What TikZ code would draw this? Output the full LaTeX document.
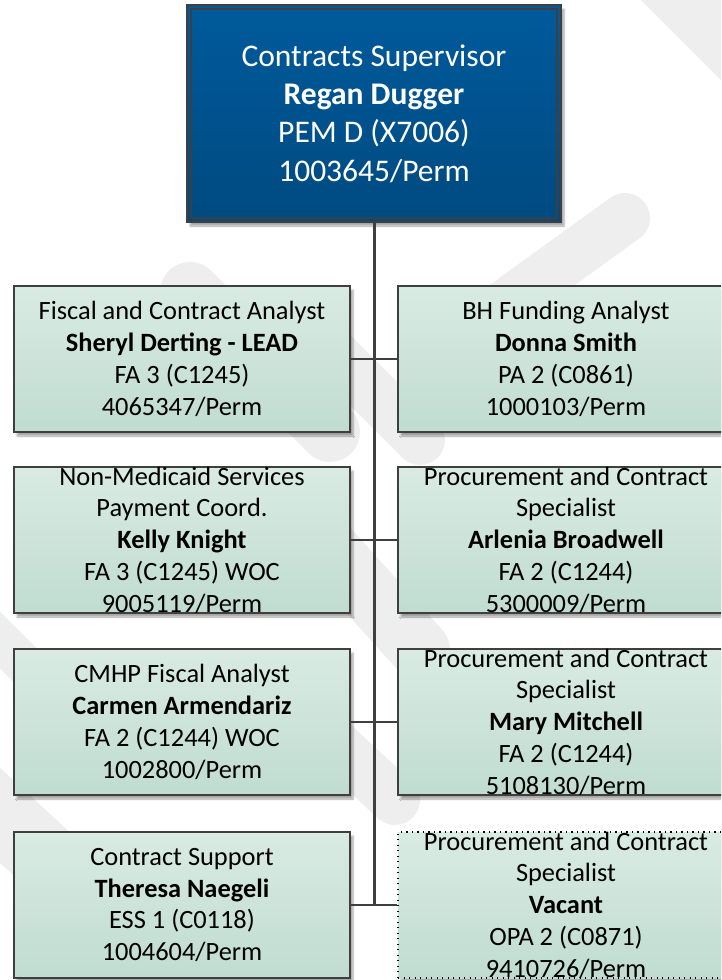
\documentclass[tikz,border=0pt]{standalone}
\usepackage{fontspec}
\setmainfont{Carlito}
\usetikzlibrary{shadows.blur}
\definecolor{edgegray}{HTML}{3F3F3F}
\definecolor{bluetop}{HTML}{005A9C}
\definecolor{bluebot}{HTML}{004A80}
\definecolor{greentop}{HTML}{D9EBE3}
\definecolor{greenbot}{HTML}{C0DCD1}
\definecolor{wmgray}{HTML}{EEEEEE}
\begin{document}
\begin{tikzpicture}[x=1pt,y=-1pt,
  softshadow/.style={blur shadow={shadow xshift=3pt, shadow yshift=-4pt, shadow blur steps=6, shadow opacity=35}},
  bossbox/.style={rectangle, draw=edgegray, line width=2.2pt, top color=bluetop, bottom color=bluebot,
    minimum width=374pt, minimum height=217pt, inner sep=0pt, softshadow},
  staffbox/.style={rectangle, draw=edgegray, line width=2pt, top color=greentop, bottom color=greenbot,
    minimum width=336pt, minimum height=146pt, inner sep=0pt, softshadow},
  vacantbox/.style={staffbox, draw=black, line width=1.3pt, dash pattern=on 1.3pt off 4.2pt},
  bosstext/.style={align=center, inner sep=0pt, text=white, font=\fontsize{31.5}{38.4}\selectfont},
  stafftext/.style={align=center, inner sep=0pt, text=black, font=\fontsize{26.4}{31.8}\selectfont},
  trunk/.style={draw=edgegray, line width=3pt},
  branch/.style={draw=edgegray, line width=2pt},
  wmband/.style={draw=wmgray, line cap=round}]
\useasboundingbox (0,0) rectangle (721,980);
\clip (0,0) rectangle (721,980);

% faint diagonal background bands
\draw[wmband, line width=70pt] (650,-40) -- (780,90);
\draw[wmband, line width=50pt] (470,330) -- (625,218);
\draw[wmband, line width=60pt] (190,292) -- (330,432);
\draw[wmband, line width=50pt] (330,350) -- (420,440);
\draw[wmband, line width=60pt] (330,550) -- (420,650);
\draw[wmband, line width=50pt] (320,730) -- (395,800);
\draw[wmband, line width=40pt] (-40,600) -- (40,680);
\draw[wmband, line width=70pt] (-60,760) -- (70,880);

% supervisor
\node[bossbox] (boss) at (374,113.5) {};
\draw[edgegray, line width=1.3pt] ([shift={(5pt,-5pt)}]boss.north west) rectangle ([shift={(-5pt,5pt)}]boss.south east);
\node[bosstext] (bosst) at (boss.center) {Contracts Supervisor\\\textbf{Regan Dugger}\\PEM D (X7006)\\1003645/Perm};

% staff boxes
\node[staffbox] (l1) at (182,359) {};
\node[staffbox] (r1) at (566,359) {};
\node[staffbox] (l2) at (182,540) {};
\node[staffbox] (r2) at (566,540) {};
\node[staffbox] (l3) at (182,722) {};
\node[staffbox] (r3) at (566,722) {};
\node[staffbox] (l4) at (182,905) {};
\node[vacantbox] (r4) at (566,905) {};

% reporting lines
\coordinate (trunkend) at (374,905);
\draw[trunk] (boss.south) -- (trunkend);
\draw[branch] (l1.east) -- (r1.west);
\draw[branch] (l2.east) -- (r2.west);
\draw[branch] (l3.east) -- (r3.west);
\draw[branch] (l4.east) -- (r4.west);

% staff text
\node[stafftext] (l1t) at (l1.center) {Fiscal and Contract Analyst\\\textbf{Sheryl Derting - LEAD}\\FA 3 (C1245)\\4065347/Perm};
\node[stafftext] (r1t) at (r1.center) {BH Funding Analyst\\\textbf{Donna Smith}\\PA 2 (C0861)\\1000103/Perm};
\node[stafftext] (l2t) at (l2.center) {Non-Medicaid Services\\Payment Coord.\\\textbf{Kelly Knight}\\FA 3 (C1245) WOC\\9005119/Perm};
\node[stafftext] (r2t) at (r2.center) {Procurement and Contract\\Specialist\\\textbf{Arlenia Broadwell}\\FA 2 (C1244)\\5300009/Perm};
\node[stafftext] (l3t) at (l3.center) {CMHP Fiscal Analyst\\\textbf{Carmen Armendariz}\\FA 2 (C1244) WOC\\1002800/Perm};
\node[stafftext] (r3t) at (r3.center) {Procurement and Contract\\Specialist\\\textbf{Mary Mitchell}\\FA 2 (C1244)\\5108130/Perm};
\node[stafftext] (l4t) at (l4.center) {Contract Support\\\textbf{Theresa Naegeli}\\ESS 1 (C0118)\\1004604/Perm};
\node[stafftext] (r4t) at (r4.center) {Procurement and Contract\\Specialist\\\textbf{Vacant}\\OPA 2 (C0871)\\9410726/Perm};
\end{tikzpicture}
\end{document}
